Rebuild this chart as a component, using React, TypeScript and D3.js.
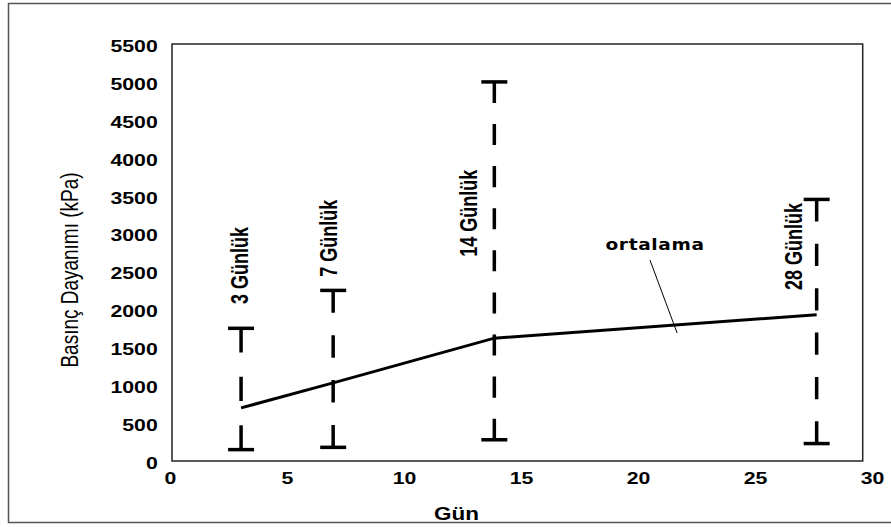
import React, { useEffect, useRef } from 'react';
import * as d3 from 'd3';

// test ages (days) and compressive strength (kPa)
const days = [3, 7, 14, 28];
const meanValues = [700, 1030, 1620, 1930];
const minValues = [150, 180, 280, 230];
const maxValues = [1750, 2250, 5000, 3450];

// rotated labels above each range bar
const barLabels = ['3 Günlük', '7 Günlük', '14 Günlük', '28 Günlük'];
const barLabelDays = [3.3, 7.15, 13.24, 27.35];
const barLabelValues = [2070, 2430, 2695, 2255];

const xTicks = [0, 5, 10, 15, 20, 25, 30];
const yTicks = [0, 500, 1000, 1500, 2000, 2500, 3000, 3500, 4000, 4500, 5000, 5500];

const meanLabel = 'ortalama';
const meanLabelAt = [20.98, 2783];
const leaderFrom = [20.76, 2651];
const leaderTo = [21.94, 1688];

const xTitle = 'Gün';
const yTitle = 'Basınç Dayanımı (kPa)';

function App() {
  return (
    <div>
      <StrengthChart />
    </div>
  );
}

function StrengthChart() {
  const container = useRef(null);

  useEffect(() => {
    if (!container.current) return;
    const width = 891;
    const height = 527;
    const font = '"Liberation Sans", Arial, sans-serif';

    d3.select(container.current).select('svg').remove();

    const svg = d3.select(container.current)
      .append('svg')
      .attr('width', width)
      .attr('height', height)
      .style('position', 'absolute')
      .style('left', 0)
      .style('top', 0)
      .style('background', '#fff');

    // outer chart border (runs off the right edge)
    svg.append('rect')
      .attr('x', 8.5)
      .attr('y', 3.5)
      .attr('width', 900)
      .attr('height', 519)
      .attr('fill', 'none')
      .attr('stroke', '#555')
      .attr('stroke-width', 1.5);

    const x = d3.scaleLinear().domain([0, 30]).range([172, 862.7]);
    const y = d3.scaleLinear().domain([0, 5500]).range([461, 44]);
    // tick labels sit slightly spread compared to the plot area
    const xLabel = d3.scaleLinear().domain([0, 30]).range([170, 872]);

    // plot frame
    svg.append('rect')
      .attr('x', x(0))
      .attr('y', y(5500))
      .attr('width', x(30) - x(0))
      .attr('height', y(0) - y(5500))
      .attr('fill', 'none')
      .attr('stroke', '#222')
      .attr('stroke-width', 1.5);

    // Y axis labels
    const yAxis = svg.append('g')
      .attr('transform', `translate(${x(0)},2)`)
      .call(d3.axisLeft(y).tickValues(yTicks).tickFormat(d3.format('d')).tickSize(0).tickPadding(0));
    yAxis.select('.domain').remove();
    yAxis.selectAll('text')
      .attr('x', null)
      .attr('transform', 'translate(-14.3,0) scale(1.25,1)')
      .style('font-family', font)
      .style('font-size', '17px')
      .style('font-weight', 'bold')
      .style('fill', '#000');

    // X axis labels
    const xAxis = svg.append('g')
      .attr('transform', `translate(0,${y(0)})`)
      .call(d3.axisBottom(xLabel).tickValues(xTicks).tickFormat(d3.format('d')).tickSize(0).tickPadding(0));
    xAxis.select('.domain').remove();
    xAxis.selectAll('text')
      .attr('y', 0)
      .attr('dy', null)
      .attr('transform', 'translate(0,23) scale(1.25,1)')
      .style('font-family', font)
      .style('font-size', '17px')
      .style('font-weight', 'bold')
      .style('fill', '#000');

    // axis titles
    svg.append('text')
      .attr('transform', `translate(456.5,520) scale(1.25,1)`)
      .attr('text-anchor', 'middle')
      .style('font-family', font)
      .style('font-size', '18px')
      .style('font-weight', 'bold')
      .text(xTitle);

    svg.append('text')
      .attr('transform', `translate(78,270) scale(1.3,1) rotate(-90)`)
      .attr('text-anchor', 'middle')
      .style('font-family', font)
      .style('font-size', '19px')
      .style('font-weight', 500)
      .text(yTitle);

    // min-max range bars, dashed with T caps; dashes fitted so both ends are solid
    const capHalf = 13;
    days.forEach((d, i) => {
      const top = y(maxValues[i]);
      const bottom = y(minValues[i]);
      const len = bottom - top;
      const n = Math.max(2, Math.floor((len + 20) / 40));
      const seg = len / (2 * n - 1);
      svg.append('line')
        .attr('x1', x(d))
        .attr('x2', x(d))
        .attr('y1', top)
        .attr('y2', bottom)
        .attr('stroke', '#000')
        .attr('stroke-width', 3.5)
        .attr('stroke-dasharray', `${seg},${seg}`);
      [top, bottom].forEach(v => {
        svg.append('line')
          .attr('x1', x(d) - capHalf)
          .attr('x2', x(d) + capHalf)
          .attr('y1', v)
          .attr('y2', v)
          .attr('stroke', '#000')
          .attr('stroke-width', 3.5);
      });
      svg.append('text')
        .attr('transform', `translate(${x(barLabelDays[i])},${y(barLabelValues[i])}) scale(1.28,1) rotate(-90)`)
        .attr('text-anchor', 'start')
        .style('font-family', font)
        .style('font-size', '18px')
        .style('font-weight', 'bold')
        .text(barLabels[i]);
    });

    // mean line
    const line = d3.line()
      .x(d => x(d[0]))
      .y(d => y(d[1]));
    svg.append('path')
      .datum(d3.zip(days, meanValues))
      .attr('d', line)
      .attr('fill', 'none')
      .attr('stroke', '#000')
      .attr('stroke-width', 3);

    // "ortalama" callout
    svg.append('line')
      .attr('x1', x(leaderFrom[0]))
      .attr('y1', y(leaderFrom[1]))
      .attr('x2', x(leaderTo[0]))
      .attr('y2', y(leaderTo[1]))
      .attr('stroke', '#000')
      .attr('stroke-width', 1);
    svg.append('text')
      .attr('transform', `translate(${x(meanLabelAt[0])},${y(meanLabelAt[1])}) scale(1.24,1)`)
      .attr('text-anchor', 'middle')
      .style('font-family', '"DejaVu Sans", Verdana, sans-serif')
      .style('font-size', '15px')
      .style('font-weight', 'bold')
      .style('letter-spacing', '0.5px')
      .text(meanLabel);
  }, []);

  return <div ref={container} />;
}

export default App;
